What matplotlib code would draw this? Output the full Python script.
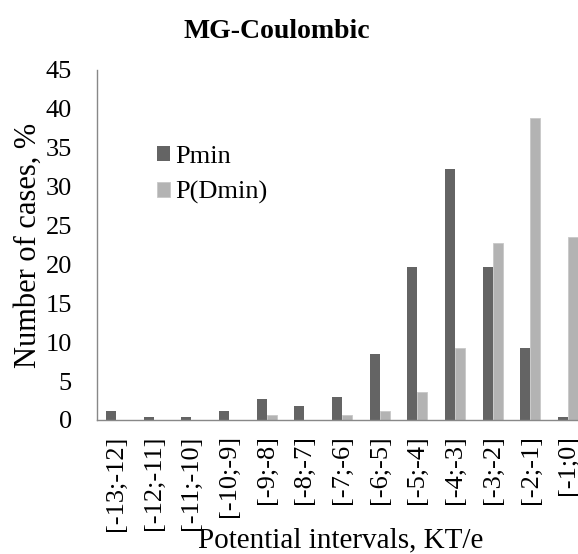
import numpy as np
import matplotlib.pyplot as plt

plt.rcParams['font.family'] = ['Liberation Serif', 'DejaVu Serif']

intervals = ['[-13;-12]', '[-12;-11]', '[-11;-10]', '[-10;-9]', '[-9;-8]', '[-8;-7]',
             '[-7;-6]', '[-6;-5]', '[-5;-4]', '[-4;-3]', '[-3;-2]', '[-2;-1]', '[-1;0]']
pmin = [1.2, 0.4, 0.4, 1.2, 2.7, 1.8, 3.0, 8.5, 19.7, 32.3, 19.7, 9.3, 0.4]
pdmin = [0.0, 0.0, 0.0, 0.0, 0.7, 0.0, 0.7, 1.2, 3.6, 9.3, 22.7, 38.8, 23.5]

fig = plt.figure(figsize=(5.78, 5.54), dpi=100)
# axes deliberately runs past the right edge (last group is cut off in the original)
ax = fig.add_axes([97/578, 134/554, 490/578, 350/554])

x = np.arange(len(intervals))
w = 0.265
ax.bar(x - w/2, pmin, w, color='#646464', label='Pmin')
ax.bar(x + w/2, pdmin, w, color='#b3b3b3', edgecolor='#c8c8c8', linewidth=0.6, label='P(Dmin)')

ax.set_xlim(-0.5, len(intervals) - 0.5)
ax.set_ylim(0, 45)
ax.set_yticks(range(0, 46, 5))
ax.set_xticks(x)
ax.set_xticklabels(intervals, rotation=90)
ax.tick_params(axis='both', length=0)
ax.tick_params(axis='x', labelsize=19, pad=11)
ax.tick_params(axis='y', labelsize=19, pad=18)

for s in ['top', 'right']:
    ax.spines[s].set_visible(False)
for s in ['left', 'bottom']:
    ax.spines[s].set_color('#888888')
    ax.spines[s].set_linewidth(1)

ax.set_ylabel('Number of cases, %', fontsize=22, labelpad=2)
fig.text(341/578, 0.5/554, 'Potential intervals, KT/e', fontsize=21, ha='center', va='bottom')
fig.text(277/578, 1 - 38/554, 'MG-Coulombic', fontsize=20, fontweight='bold', ha='center', va='baseline')

ax.legend(loc='upper left', bbox_to_anchor=(0.095, 0.82), frameon=False, fontsize=19,
          borderpad=0, handlelength=0.5, handleheight=0.5, handletextpad=0.2, labelspacing=0.5)

fig.savefig('out.png', dpi=100)
